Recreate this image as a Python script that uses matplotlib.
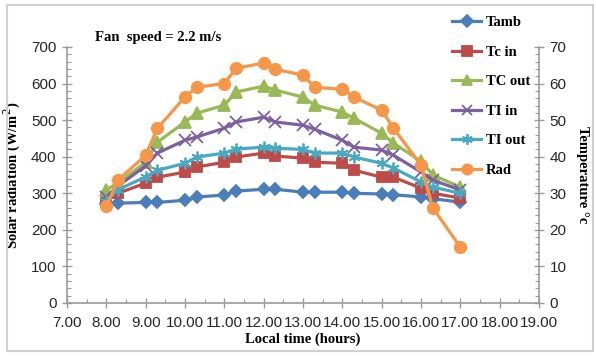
import matplotlib
matplotlib.use("Agg")
import matplotlib.pyplot as plt
from matplotlib.patches import FancyBboxPatch
from matplotlib.ticker import MultipleLocator, FormatStrFormatter

# local time (decimal clock values, 8.30 = half past eight)
hours = [8.0, 8.3, 9.0, 9.3, 10.0, 10.3, 11.0, 11.3, 12.0, 12.3,
         13.0, 13.3, 14.0, 14.3, 15.0, 15.3, 16.0, 16.3, 17.0]

# temperatures (deg C)
t_amb = [27.2, 27.3, 27.5, 27.5, 28.1, 29.0, 29.5, 30.6, 31.1, 31.1,
         30.3, 30.3, 30.3, 30.0, 29.8, 29.6, 29.0, 28.5, 27.6]
tc_in = [28.0, 30.0, 32.8, 34.4, 35.8, 37.2, 38.5, 39.9, 41.0, 40.2,
         39.6, 38.5, 38.2, 36.3, 34.4, 34.4, 31.4, 30.0, 28.7]
tc_out = [31.0, 32.8, 38.5, 44.0, 49.5, 51.9, 54.1, 57.7, 59.3, 58.2,
          56.3, 54.1, 52.2, 50.5, 46.4, 43.7, 38.8, 35.0, 31.7]
ti_in = [29.0, 32.0, 37.5, 41.0, 44.5, 45.4, 47.8, 49.5, 50.8, 49.5,
         48.6, 47.5, 44.5, 42.6, 41.8, 40.4, 35.8, 33.6, 30.9]
ti_out = [28.0, 31.0, 34.5, 36.3, 38.2, 39.9, 41.0, 42.1, 42.6, 42.3,
          42.0, 41.0, 41.0, 39.9, 38.2, 36.9, 33.1, 31.7, 30.0]

# solar radiation (W/m2)
rad = [265, 336, 404, 478, 563, 590, 600, 642, 656, 639,
       623, 590, 584, 563, 527, 478, 377, 260, 153]

fig = plt.figure(figsize=(5.96, 3.56), dpi=100)

# outer chart border
fig.patches.append(FancyBboxPatch((7 / 596, 5 / 356), 586 / 596, 346 / 356,
                                  boxstyle="square,pad=0", transform=fig.transFigure,
                                  fill=False, edgecolor="#d0d0d0", linewidth=1.5))

ax = fig.add_axes([67 / 596, 1 - 303 / 356, 472 / 596, 256 / 356])
ax2 = ax.twinx()
ax.set_zorder(ax2.get_zorder() + 1)
ax.patch.set_visible(False)

lw = 2.3
series = [
    (t_amb, "Tamb", "#4A7EBB", "D", 6.5),
    (tc_in, "Tc in", "#BE4B48", "s", 7.5),
    (tc_out, "TC out", "#98B954", "^", 8.5),
    (ti_in, "TI in", "#7D60A0", "x", 8.5),
    (ti_out, "TI out", "#46AAC5", (6, 2, 0), 8.5),
]
handles = []
for vals, name, col, mk, size in series:
    h, = ax2.plot(hours, vals, color=col, lw=lw, marker=mk, ms=size,
                  mec=col, mfc=col, mew=1.3, label=name)
    handles.append(h)
h, = ax.plot(hours, rad, color="#F79646", lw=lw, marker="o", ms=8.5,
             mec="#F79646", mfc="#F79646", label="Rad")
handles.append(h)

ax.set_xlim(7, 19)
ax.set_ylim(0, 700)
ax2.set_ylim(0, 70)

ax.xaxis.set_major_locator(MultipleLocator(1))
ax.xaxis.set_minor_locator(MultipleLocator(0.5))
ax.xaxis.set_major_formatter(FormatStrFormatter("%.2f"))
ax.yaxis.set_major_locator(MultipleLocator(100))
ax.yaxis.set_minor_locator(MultipleLocator(20))
ax2.yaxis.set_major_locator(MultipleLocator(10))
ax2.yaxis.set_minor_locator(MultipleLocator(2))

spine_col = "#9a9a9a"
for a in (ax, ax2):
    for s in a.spines.values():
        s.set_visible(False)
    a.tick_params(which="major", direction="inout", length=7, width=1,
                  color=spine_col, labelsize=11, labelcolor="#262626")
    a.tick_params(which="minor", direction="in", length=3, width=0.8,
                  color=spine_col)
    for lab in a.get_xticklabels() + a.get_yticklabels():
        lab.set_family("Liberation Sans")
ax.spines["left"].set_visible(True)
ax.spines["bottom"].set_visible(True)
ax2.spines["right"].set_visible(True)
for s in (ax.spines["left"], ax.spines["bottom"], ax2.spines["right"]):
    s.set_color(spine_col)
    s.set_linewidth(1.2)
ax.tick_params(axis="x", which="major", pad=6)
ax.tick_params(axis="y", pad=4)
ax2.tick_params(axis="y", pad=4)

font_lbl = dict(family="Liberation Serif", weight="bold", size=10.5)
ax.set_xlabel("Local time (hours)", labelpad=2, **font_lbl)
ax.set_ylabel("Solar radiation (W/m$^2$)", labelpad=6, **font_lbl)
ax2.set_ylabel("Temperature °c", rotation=270, labelpad=16, **font_lbl)

fig.text(95 / 596, 1 - 38 / 356, "Fan  speed = 2.2 m/s", ha="left", va="center",
         **font_lbl)

fig.legend(handles=handles, loc="upper left",
           bbox_to_anchor=(452 / 596, 1 - 16 / 356), frameon=False,
           prop=dict(family="Liberation Serif", weight="bold", size=10.5),
           handlelength=2.0, handletextpad=0.3, labelspacing=1.12,
           borderpad=0, borderaxespad=0, markerscale=0.9)

fig.savefig("out.png", dpi=100)
